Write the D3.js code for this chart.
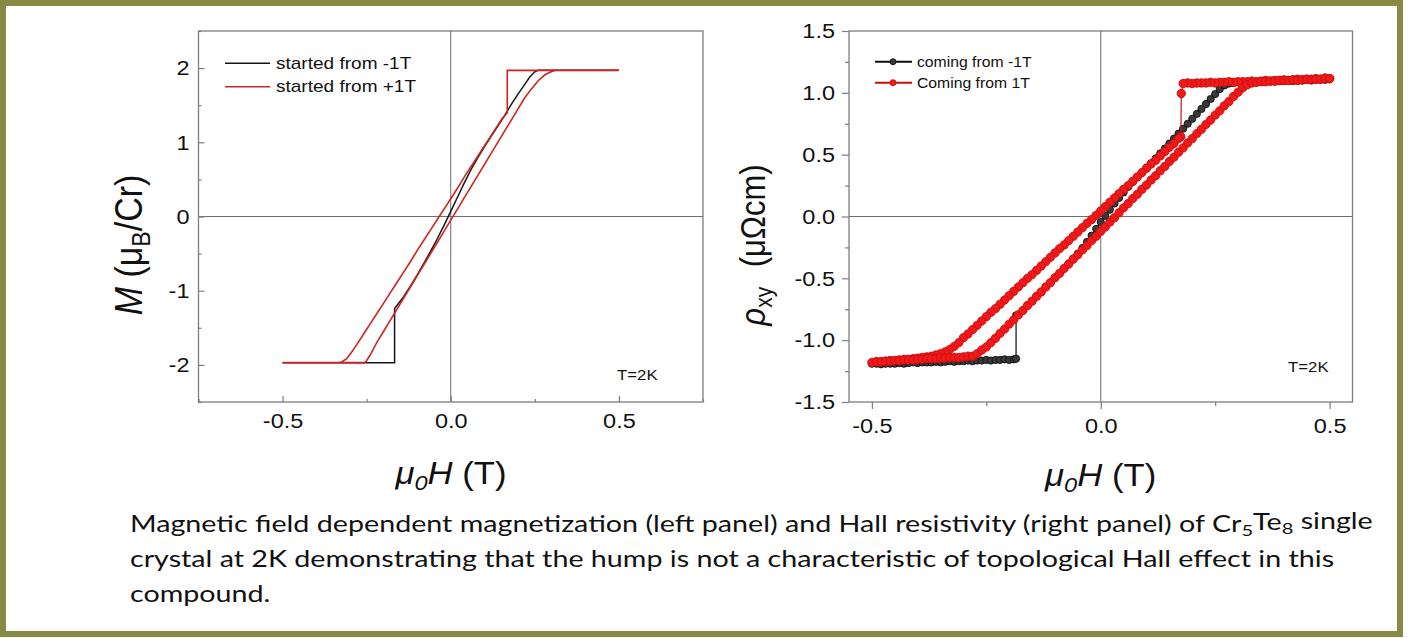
<!DOCTYPE html>
<html>
<head>
<meta charset="utf-8">
<script src="https://cdn.jsdelivr.net/npm/d3@7/dist/d3.min.js"></script>
<style>
  html, body { margin: 0; padding: 0; background: #fff; }
  svg { display: block; }
  text { font-family: "Liberation Sans", Arial, sans-serif; }
  text.caption { font-family: Lato, "Open Sans", sans-serif; }
</style>
</head>
<body>
<svg id="fig" width="1414" height="638"></svg>
<script>
// ---------- Left panel: magnetization M (μB/Cr) vs μ0H (T) ----------
const magFromMinus1T = [
  [-0.50,-1.97],[-0.40,-1.97],[-0.30,-1.97],[-0.20,-1.97],[-0.167,-1.97],
  [-0.167,-1.24],[-0.16,-1.20],[-0.14,-1.08],[-0.12,-0.94],[-0.10,-0.79],
  [-0.08,-0.63],[-0.06,-0.47],[-0.04,-0.30],[-0.02,-0.12],[0.00,0.07],
  [0.02,0.26],[0.04,0.45],[0.06,0.63],[0.08,0.79],[0.10,0.94],[0.12,1.08],
  [0.14,1.22],[0.16,1.36],[0.18,1.51],[0.20,1.65],[0.22,1.78],[0.235,1.88],
  [0.25,1.95],[0.26,1.97],[0.30,1.97],[0.40,1.97],[0.50,1.97]
];
const magFromPlus1T = [
  // field sweep down
  [0.50,1.97],[0.40,1.97],[0.30,1.97],[0.20,1.97],[0.168,1.97],[0.168,1.40],
  [0.15,1.30],[0.12,1.09],[0.10,0.95],[0.08,0.81],[0.06,0.67],[0.04,0.53],
  [0.02,0.38],[0.00,0.24],[-0.02,0.10],[-0.04,-0.04],[-0.06,-0.18],[-0.08,-0.32],
  [-0.10,-0.46],[-0.12,-0.61],[-0.14,-0.75],[-0.16,-0.89],[-0.18,-1.03],
  [-0.20,-1.17],[-0.22,-1.31],[-0.24,-1.45],[-0.26,-1.59],[-0.28,-1.73],
  [-0.295,-1.83],[-0.31,-1.92],[-0.325,-1.96],[-0.34,-1.97],[-0.40,-1.97],[-0.50,-1.97],
  // field sweep up
  [-0.40,-1.97],[-0.30,-1.97],[-0.256,-1.97],[-0.25,-1.94],[-0.24,-1.87],
  [-0.22,-1.70],[-0.20,-1.55],[-0.18,-1.40],[-0.16,-1.25],[-0.14,-1.10],
  [-0.12,-0.95],[-0.10,-0.80],[-0.08,-0.65],[-0.06,-0.50],[-0.04,-0.35],
  [-0.02,-0.20],[0.00,-0.05],[0.02,0.10],[0.04,0.25],[0.06,0.40],[0.08,0.55],
  [0.10,0.70],[0.12,0.85],[0.14,1.00],[0.16,1.15],[0.18,1.30],[0.20,1.45],
  [0.22,1.60],[0.24,1.72],[0.26,1.83],[0.28,1.91],[0.30,1.955],[0.315,1.97],
  [0.40,1.97],[0.50,1.97]
];
const magXMajor = [-0.5, 0, 0.5];
const magXMinor = [-0.75, -0.25, 0.25, 0.75];
const magYMajor = [-2, -1, 0, 1, 2];
const magYMinor = [-2.5, -1.5, -0.5, 0.5, 1.5, 2.5];
const magLegend = ["started from -1T", "started from +1T"];

// ---------- Right panel: Hall resistivity ρxy (μΩcm) vs μ0H (T) ----------
const hallFromMinus1T = [
  [-0.50,-1.19],[-0.49,-1.19],[-0.48,-1.195],[-0.47,-1.19],[-0.46,-1.19],[-0.45,-1.19],
  [-0.44,-1.185],[-0.43,-1.19],[-0.42,-1.185],[-0.41,-1.18],[-0.40,-1.185],[-0.39,-1.18],
  [-0.38,-1.18],[-0.37,-1.18],[-0.36,-1.175],[-0.35,-1.18],[-0.34,-1.175],[-0.33,-1.17],
  [-0.32,-1.175],[-0.31,-1.17],[-0.30,-1.17],[-0.29,-1.165],[-0.28,-1.17],[-0.27,-1.165],
  [-0.26,-1.165],[-0.25,-1.16],[-0.24,-1.165],[-0.23,-1.16],[-0.22,-1.16],[-0.21,-1.155],
  [-0.20,-1.16],[-0.19,-1.155],[-0.185,-1.15],
  [-0.185,-0.80],[-0.18,-0.795],[-0.17,-0.76],[-0.16,-0.72],[-0.15,-0.685],[-0.14,-0.645],
  [-0.13,-0.61],[-0.12,-0.57],[-0.11,-0.535],[-0.10,-0.495],[-0.09,-0.46],[-0.08,-0.42],
  [-0.07,-0.38],[-0.06,-0.34],[-0.05,-0.30],[-0.04,-0.255],[-0.03,-0.205],[-0.02,-0.155],
  [-0.01,-0.10],[0.00,-0.045],[0.01,0.005],[0.02,0.055],[0.03,0.105],[0.04,0.15],
  [0.05,0.195],[0.06,0.24],[0.07,0.28],[0.08,0.32],[0.09,0.355],[0.10,0.395],[0.11,0.43],
  [0.12,0.47],[0.13,0.51],[0.14,0.55],[0.15,0.59],[0.16,0.63],[0.17,0.67],[0.18,0.71],
  [0.19,0.75],[0.20,0.79],[0.21,0.83],[0.22,0.87],[0.23,0.91],[0.24,0.95],[0.25,0.99],
  [0.26,1.03],[0.27,1.06],[0.28,1.075],[0.29,1.08],[0.30,1.085],[0.31,1.08],[0.32,1.085],
  [0.33,1.09],[0.34,1.085],[0.35,1.09],[0.36,1.09],[0.37,1.095],[0.38,1.09],[0.39,1.095],
  [0.40,1.095],[0.41,1.10],[0.42,1.095],[0.43,1.10],[0.44,1.10],[0.45,1.105],[0.46,1.10],
  [0.47,1.105],[0.48,1.11],[0.49,1.105],[0.50,1.11]
];
const hallFromPlus1T = [
  // field sweep down
  [0.50,1.115],[0.49,1.12],[0.48,1.11],[0.47,1.115],[0.46,1.11],[0.45,1.11],[0.44,1.105],
  [0.43,1.11],[0.42,1.105],[0.41,1.10],[0.40,1.105],[0.39,1.10],[0.38,1.10],[0.37,1.095],
  [0.36,1.10],[0.35,1.095],[0.34,1.09],[0.33,1.095],[0.32,1.09],[0.31,1.09],[0.30,1.09],
  [0.29,1.085],[0.28,1.09],[0.27,1.085],[0.26,1.085],[0.25,1.08],[0.24,1.085],[0.23,1.08],
  [0.22,1.08],[0.21,1.08],[0.20,1.075],[0.19,1.08],[0.18,1.075],
  [0.176,0.995],[0.175,0.645],[0.17,0.63],[0.16,0.59],[0.15,0.56],[0.14,0.525],[0.13,0.49],
  [0.12,0.455],[0.11,0.425],[0.10,0.39],[0.09,0.355],[0.08,0.32],[0.07,0.285],[0.06,0.25],
  [0.05,0.22],[0.04,0.185],[0.03,0.15],[0.02,0.115],[0.01,0.08],[0.00,0.045],[-0.01,0.01],
  [-0.02,-0.025],[-0.03,-0.055],[-0.04,-0.09],[-0.05,-0.125],[-0.06,-0.16],[-0.07,-0.195],
  [-0.08,-0.23],[-0.09,-0.26],[-0.10,-0.295],[-0.11,-0.33],[-0.12,-0.365],[-0.13,-0.40],
  [-0.14,-0.435],[-0.15,-0.47],[-0.16,-0.50],[-0.17,-0.535],[-0.18,-0.57],[-0.19,-0.605],
  [-0.20,-0.64],[-0.21,-0.675],[-0.22,-0.71],[-0.23,-0.745],[-0.24,-0.775],[-0.25,-0.81],
  [-0.26,-0.845],[-0.27,-0.88],[-0.28,-0.915],[-0.29,-0.95],[-0.30,-0.98],[-0.31,-1.02],
  [-0.32,-1.05],[-0.33,-1.075],[-0.34,-1.095],[-0.35,-1.11],[-0.36,-1.12],[-0.37,-1.13],
  [-0.38,-1.135],[-0.39,-1.14],[-0.40,-1.145],[-0.41,-1.15],[-0.42,-1.155],[-0.43,-1.155],
  [-0.44,-1.16],[-0.45,-1.165],[-0.46,-1.165],[-0.47,-1.17],[-0.48,-1.175],[-0.49,-1.175],
  [-0.50,-1.18],
  // field sweep up
  [-0.49,-1.175],[-0.48,-1.175],[-0.47,-1.17],[-0.46,-1.17],[-0.45,-1.165],[-0.44,-1.165],
  [-0.43,-1.16],[-0.42,-1.16],[-0.41,-1.16],[-0.40,-1.155],[-0.39,-1.155],[-0.38,-1.15],
  [-0.37,-1.15],[-0.36,-1.15],[-0.35,-1.145],[-0.34,-1.145],[-0.33,-1.14],[-0.32,-1.14],
  [-0.31,-1.14],[-0.30,-1.135],[-0.29,-1.13],[-0.28,-1.13],[-0.27,-1.11],[-0.26,-1.08],
  [-0.25,-1.055],[-0.24,-1.02],[-0.23,-0.985],[-0.22,-0.945],[-0.21,-0.91],[-0.20,-0.87],
  [-0.19,-0.835],[-0.18,-0.795],[-0.17,-0.76],[-0.16,-0.72],[-0.15,-0.685],[-0.14,-0.645],
  [-0.13,-0.61],[-0.12,-0.57],[-0.11,-0.535],[-0.10,-0.495],[-0.09,-0.46],[-0.08,-0.42],
  [-0.07,-0.385],[-0.06,-0.345],[-0.05,-0.31],[-0.04,-0.27],[-0.03,-0.235],[-0.02,-0.195],
  [-0.01,-0.16],[0.00,-0.12],[0.01,-0.085],[0.02,-0.045],[0.03,-0.01],[0.04,0.03],
  [0.05,0.07],[0.06,0.105],[0.07,0.145],[0.08,0.18],[0.09,0.22],[0.10,0.255],[0.11,0.295],
  [0.12,0.33],[0.13,0.37],[0.14,0.405],[0.15,0.445],[0.16,0.48],[0.17,0.52],[0.18,0.555],
  [0.19,0.595],[0.20,0.63],[0.21,0.67],[0.22,0.705],[0.23,0.745],[0.24,0.78],[0.25,0.82],
  [0.26,0.855],[0.27,0.895],[0.28,0.93],[0.29,0.97],[0.30,1.005],[0.31,1.04],[0.32,1.065],
  [0.33,1.08],[0.34,1.085],[0.35,1.09],[0.36,1.09],[0.37,1.095],[0.38,1.095],[0.39,1.10],
  [0.40,1.10],[0.41,1.10],[0.42,1.105],[0.43,1.10],[0.44,1.105],[0.45,1.11],[0.46,1.105],
  [0.47,1.11],[0.48,1.11],[0.49,1.115],[0.50,1.115]
];
const hallXMajor = [-0.5, 0, 0.5];
const hallXMinor = [-0.25, 0.25];
const hallYMajor = [-1.5, -1.0, -0.5, 0.0, 0.5, 1.0, 1.5];
const hallYMinor = [-1.25, -0.75, -0.25, 0.25, 0.75, 1.25];
const hallLegend = ["coming from -1T", "Coming from 1T"];

const captionLines = [
  ["Magnetic field dependent magnetization (left panel) and Hall resistivity (right panel) of Cr", {sub: "5"}, "Te", {sub: "8"}, " single"],
  ["crystal at 2K demonstrating that the hump is not a characteristic of topological Hall effect in this"],
  ["compound."]
];

// ---------- drawing ----------
const SX = 1.12;                 // horizontal glyph stretch used for the plot lettering
const AXIS_GRAY = "#7d7d7d";
const svg = d3.select("#fig");
const hyphen = f => d => f(d).replace("\u2212", "-");

// olive frame
svg.append("rect")
  .attr("x", 3).attr("y", 3).attr("width", 1397).attr("height", 631)
  .attr("fill", "#fff").attr("stroke", "#878a42").attr("stroke-width", 6);

function label(g, x, y, size, opts = {}) {
  const sx = opts.sx ?? SX;
  let tr = `translate(${x},${y}) scale(${sx},1)`;
  if (opts.rot) tr += ` rotate(${opts.rot})`;
  return g.append("text")
    .attr("transform", tr)
    .attr("font-size", size)
    .attr("text-anchor", opts.anchor || "start")
    .attr("fill", "#111");
}

function buildPanel(cfg) {
  const g = svg.append("g");
  const x = d3.scaleLinear().domain(cfg.xDomain).range(cfg.xRange);
  const y = d3.scaleLinear().domain(cfg.yDomain).range(cfg.yRange);
  const [x0, x1] = cfg.xRange, [yb, yt] = cfg.yRange;
  const dir = cfg.inward ? -1 : 1;

  // zero lines
  g.append("line").attr("x1", x(0)).attr("x2", x(0)).attr("y1", yt).attr("y2", yb)
    .attr("stroke", "#6e6e6e").attr("stroke-width", 1);
  g.append("line").attr("x1", x0).attr("x2", x1).attr("y1", y(0)).attr("y2", y(0))
    .attr("stroke", "#6e6e6e").attr("stroke-width", 1);

  // axes
  const style = (sel) => {
    sel.select(".domain").remove();
    sel.selectAll(".tick line").attr("stroke", AXIS_GRAY).attr("stroke-width", 1.2);
    sel.attr("font-family", null).attr("font-size", null);
  };
  const gx = g.append("g").attr("transform", `translate(0,${yb})`);
  gx.call(d3.axisBottom(x).tickValues(cfg.xMajor).tickFormat(cfg.xFmt)
      .tickSizeInner(dir * cfg.major).tickSizeOuter(0).tickPadding(cfg.xPad)).call(style);
  gx.append("g").call(d3.axisBottom(x).tickValues(cfg.xMinor).tickFormat(() => "")
      .tickSizeInner(dir * cfg.minor).tickSizeOuter(0)).call(style);
  gx.selectAll(".tick text").attr("font-size", cfg.tickFont).attr("fill", "#111")
    .attr("transform", `scale(${SX},1)`);

  const gy = g.append("g").attr("transform", `translate(${x0},0)`);
  gy.call(d3.axisLeft(y).tickValues(cfg.yMajor).tickFormat(cfg.yFmt)
      .tickSizeInner(dir * cfg.major).tickSizeOuter(0).tickPadding(cfg.yPad)).call(style);
  gy.append("g").call(d3.axisLeft(y).tickValues(cfg.yMinor).tickFormat(() => "")
      .tickSizeInner(dir * cfg.minor).tickSizeOuter(0)).call(style);
  gy.selectAll(".tick text").each(function () {
    const t = d3.select(this);
    const tx = +t.attr("x");
    t.attr("x", 0).attr("font-size", cfg.tickFont).attr("fill", "#111")
     .attr("transform", `translate(${tx},0) scale(${SX},1)`);
  });

  // plot frame
  g.append("rect").attr("x", x0).attr("y", yt).attr("width", x1 - x0).attr("height", yb - yt)
    .attr("fill", "none").attr("stroke", AXIS_GRAY).attr("stroke-width", 1.3);

  return { g, x, y };
}

// ----- left panel -----
const L = buildPanel({
  xDomain: [-0.75, 0.75], xRange: [198.5, 703],
  yDomain: [-2.5, 2.5], yRange: [402, 31],
  xMajor: magXMajor, xMinor: magXMinor, yMajor: magYMajor, yMinor: magYMinor,
  xFmt: hyphen(d3.format(".1f")), yFmt: hyphen(d3.format("d")),
  inward: true, major: 6, minor: 3, xPad: 11, yPad: 9, tickFont: 21
});
const magLine = d3.line().x(d => L.x(d[0])).y(d => L.y(d[1]));
L.g.append("path").datum(magFromMinus1T).attr("d", magLine)
  .attr("fill", "none").attr("stroke", "#151515").attr("stroke-width", 1.5);
L.g.append("path").datum(magFromPlus1T).attr("d", magLine)
  .attr("fill", "none").attr("stroke", "#d42121").attr("stroke-width", 1.6);

// legend
[["#151515", 63.3, 68.8], ["#c42a2a", 86.7, 92.2]].forEach(([c, ly, ty], i) => {
  L.g.append("line").attr("x1", 225).attr("x2", 270).attr("y1", ly).attr("y2", ly)
    .attr("stroke", c).attr("stroke-width", 1.4);
  label(L.g, 276, ty, 17).text(magLegend[i]);
});
label(L.g, 617, 380, 15).text("T=2K");

// axis titles
{
  const t = label(L.g, 451, 484, 31, { anchor: "middle" });
  t.append("tspan").attr("font-style", "italic").text("μ");
  t.append("tspan").attr("font-style", "italic").attr("font-size", "0.68em").attr("dy", "0.3em").text("0");
  t.append("tspan").attr("font-style", "italic").attr("dy", "-0.2em").text("H");
  t.append("tspan").text(" (T)");
}
{
  const t = label(L.g, 142, 245, 34, { anchor: "middle", rot: -90 });
  t.append("tspan").attr("font-style", "italic").text("M");
  t.append("tspan").text(" (μ");
  t.append("tspan").attr("font-size", "0.68em").attr("dy", "0.3em").text("B");
  t.append("tspan").attr("dy", "-0.2em").text("/Cr)");
}

// ----- right panel -----
const R = buildPanel({
  xDomain: [-0.55, 0.55], xRange: [849, 1352.5],
  yDomain: [-1.5, 1.5], yRange: [402, 31],
  xMajor: hallXMajor, xMinor: hallXMinor, yMajor: hallYMajor, yMinor: hallYMinor,
  xFmt: hyphen(d3.format(".1f")), yFmt: hyphen(d3.format(".1f")),
  inward: false, major: 7, minor: 4, xPad: 9, yPad: 7, tickFont: 21
});
const hallLine = d3.line().x(d => R.x(d[0])).y(d => R.y(d[1]));
function hallSeries(data, fill, stroke, r) {
  R.g.append("path").datum(data).attr("d", hallLine)
    .attr("fill", "none").attr("stroke", stroke).attr("stroke-width", 1.2);
  R.g.append("g").selectAll("circle").data(data).join("circle")
    .attr("cx", d => R.x(d[0])).attr("cy", d => R.y(d[1])).attr("r", r)
    .attr("fill", fill).attr("stroke", stroke).attr("stroke-width", 0.9);
}
hallSeries(hallFromMinus1T, "#3a3a3a", "#0d0d0d", 3.6);
hallSeries(hallFromPlus1T, "#f01818", "#c80f0f", 4.2);

// legend
[["#3a3a3a", "#0d0d0d", 61.7, 67], ["#f01818", "#c80f0f", 82.7, 88]].forEach(([f, s, ly, ty], i) => {
  R.g.append("line").attr("x1", 875).attr("x2", 912).attr("y1", ly).attr("y2", ly)
    .attr("stroke", s).attr("stroke-width", 2);
  R.g.append("circle").attr("cx", 893).attr("cy", ly).attr("r", 3)
    .attr("fill", f).attr("stroke", s).attr("stroke-width", 0.9);
  label(R.g, 917, ty, 15, { sx: 1.05 }).text(hallLegend[i]);
});
label(R.g, 1288, 372, 15).text("T=2K");

{
  const t = label(R.g, 1100.7, 486, 31, { anchor: "middle" });
  t.append("tspan").attr("font-style", "italic").text("μ");
  t.append("tspan").attr("font-style", "italic").attr("font-size", "0.68em").attr("dy", "0.3em").text("0");
  t.append("tspan").attr("font-style", "italic").attr("dy", "-0.2em").text("H");
  t.append("tspan").text(" (T)");
}
{
  const t = label(R.g, 765, 245, 31, { anchor: "middle", rot: -90 });
  t.append("tspan").attr("font-style", "italic").text("ρ");
  t.append("tspan").attr("font-size", "0.68em").attr("dy", "0.3em").text("xy");
  t.append("tspan").attr("dy", "-0.2em").attr("dx", "0.35em").text(" (μΩcm)");
}

// ----- caption -----
const capG = svg.append("g");
const capBase = [532, 567, 602];
const capTexts = captionLines.map((parts, i) => {
  const t = capG.append("text").attr("class", "caption")
    .attr("font-size", 23).attr("fill", "#111")
    .attr("transform", `translate(130,${capBase[i]})`);
  let shifted = false;
  parts.forEach(p => {
    if (typeof p === "string") {
      t.append("tspan").attr("dy", shifted ? "-0.25em" : null).text(p);
      shifted = false;
    } else {
      t.append("tspan").attr("font-size", "0.7em").attr("dy", "0.25em").text(p.sub);
      shifted = true;
    }
  });
  return t;
});
// fit the first line to its span and use the same glyph width for the others
const k = 1243 / capTexts[0].node().getComputedTextLength();
capTexts.forEach((t, i) => t.attr("transform", `translate(130,${capBase[i]}) scale(${k},1)`));
</script>
</body>
</html>
